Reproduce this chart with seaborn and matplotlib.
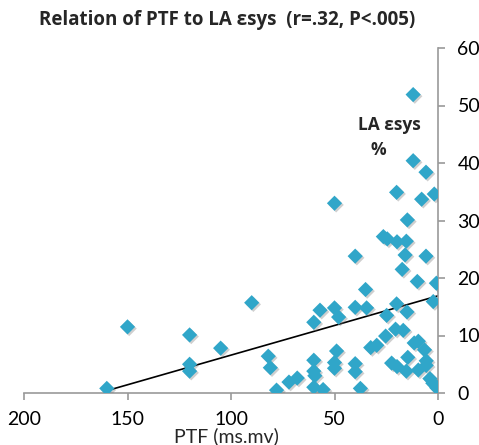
import matplotlib
matplotlib.use("Agg")
import matplotlib.pyplot as plt
import matplotlib.patheffects as pe
import seaborn as sns
import pandas as pd

# Data
ptf = [160, 150, 120, 120, 120, 105, 90, 82, 81, 78, 72, 68,
       60, 57, 50, 48, 40, 40, 35, 34.5,
       60, 60, 59.5, 60, 55.5, 49, 50, 50, 40, 40, 37.5,
       32.5, 29.6, 25.3, 24.8, 20, 15, 20.5, 16.8,
       22.4, 19.8, 15.3, 14.6, 11.5, 9.5, 9.5, 6.5, 5.7, 5.7, 3.9, 2.5, 0.6,
       0.8, 2.3, 10, 17.3, 15.9, 5.8,
       12, 12, 5.8, 20, 50, 7.9, 1.8, 14.8, 26.4, 24.5, 19.8, 15.3]
la_esys = [0.8, 11.5, 10.1, 5.0, 3.8, 7.8, 15.7, 6.4, 4.4, 0.5, 1.9, 2.6,
           12.3, 14.4, 14.8, 13.2, 23.8, 14.9, 18.0, 14.8,
           5.7, 3.8, 3.0, 1.0, 0.6, 7.3, 5.3, 4.3, 5.1, 3.7, 0.8,
           7.9, 8.3, 9.9, 13.5, 15.5, 14.1, 11.1, 10.9,
           5.2, 4.6, 3.8, 6.2, 8.7, 9.0, 4.0, 7.5, 5.6, 4.8, 2.5, 1.7, 0.9,
           19.1, 15.9, 19.4, 21.5, 24.0, 23.8,
           51.9, 40.4, 38.4, 34.9, 33.0, 33.7, 34.6, 30.1, 27.2, 26.8, 26.3, 26.4]
trend_x = [160, 0]
trend_y = [0.4, 16.9]
x_ticks = [200, 150, 100, 50, 0]
y_ticks = [0, 10, 20, 30, 40, 50, 60]

df = pd.DataFrame({"PTF": ptf, "LA": la_esys})
tr = pd.DataFrame({"x": trend_x, "y": trend_y})

sns.set_theme(style="white")
plt.rcParams["font.family"] = ["Lato", "DejaVu Sans"]

fig = plt.figure(figsize=(4.79, 4.45), dpi=100)
ax = fig.add_axes([24 / 479, 1 - 393 / 445, (438 - 24) / 479, (393 - 48) / 445])

sns.lineplot(data=tr, x="x", y="y", ax=ax, color="black", linewidth=1.2, zorder=2)
sns.scatterplot(data=df, x="PTF", y="LA", ax=ax, marker="D", s=60,
                color="#30a6c9", edgecolor="none", linewidth=0, zorder=3,
                path_effects=[pe.SimplePatchShadow(offset=(1.2, -1.2), shadow_rgbFace="#777777", alpha=0.35),
                              pe.Normal()])

ax.set_xlim(200, 0)
ax.set_ylim(0, 60)
ax.set_xticks(x_ticks)
ax.set_yticks(y_ticks)
ax.set_xticklabels([str(v) for v in x_ticks])
ax.set_yticklabels([str(v) for v in y_ticks])

ax.yaxis.tick_right()
for s in ["left", "top"]:
    ax.spines[s].set_visible(False)
for s in ["right", "bottom"]:
    ax.spines[s].set_color("#999999")
    ax.spines[s].set_linewidth(1.2)
ax.tick_params(axis="both", which="major", direction="out", length=5, width=1.2,
               color="#999999", labelsize=14, labelcolor="black")
ax.tick_params(axis="y", right=True, left=False, pad=9)
ax.tick_params(axis="x", bottom=True, pad=8)

ax.set_xlabel("")
ax.set_ylabel("")
fig.text(226 / 479, 1 - 436 / 445, "PTF (ms.mv)", ha="center", va="center", fontsize=14)

fig.text(227 / 479, 1 - 20 / 445, "Relation of PTF to LA εsys  (r=.32, P<.005)",
         ha="center", va="center", fontsize=13.5, fontweight="bold",
         family=["Open Sans", "DejaVu Sans"])
ax.text(389 / 479, 1 - 125 / 445, "LA εsys", transform=fig.transFigure,
        ha="center", va="center", fontsize=12.5, fontweight="bold",
        family=["Open Sans", "DejaVu Sans"])
ax.text(378 / 479, 1 - 150 / 445, "%", transform=fig.transFigure,
        ha="center", va="center", fontsize=12.5, fontweight="bold",
        family=["Open Sans", "DejaVu Sans"])

fig.savefig("out.png", dpi=100)
